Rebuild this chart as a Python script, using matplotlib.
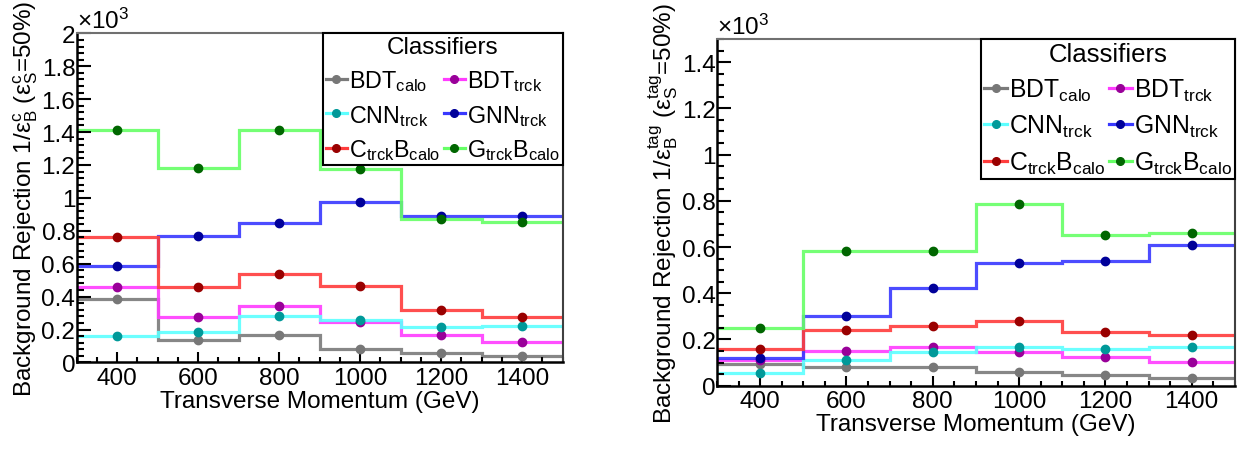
import numpy as np
import matplotlib
matplotlib.use("Agg")
import matplotlib.pyplot as plt
from matplotlib.ticker import MultipleLocator, FuncFormatter

plt.rcParams['font.family'] = ['Liberation Sans', 'DejaVu Sans']
plt.rcParams['mathtext.fontset'] = 'custom'
plt.rcParams['mathtext.rm'] = 'Liberation Sans'
plt.rcParams['mathtext.it'] = 'Liberation Sans:italic'
plt.rcParams['mathtext.sf'] = 'Liberation Sans'
plt.rcParams['mathtext.fallback'] = 'stixsans'

# ---------------- data ----------------
bin_edges = [300, 500, 700, 900, 1100, 1300, 1500]
bin_centers = [400, 600, 800, 1000, 1200, 1400]

classifiers = ['BDT_calo', 'BDT_trck', 'CNN_trck', 'GNN_trck', 'CtrckBcalo', 'GtrckBcalo']
legend_labels = [r'BDT$_{\mathrm{calo}}$', r'BDT$_{\mathrm{trck}}$', r'CNN$_{\mathrm{trck}}$',
                 r'GNN$_{\mathrm{trck}}$', r'C$_{\mathrm{trck}}$B$_{\mathrm{calo}}$',
                 r'G$_{\mathrm{trck}}$B$_{\mathrm{calo}}$']

# left panel: 1/eps_B^c
left_BDT_calo = [388, 136, 168, 79, 59, 40]
left_BDT_trck = [457, 278, 345, 244, 168, 126]
left_CNN_trck = [160, 185, 280, 260, 215, 220]
left_GNN_trck = [587, 766, 848, 973, 888, 890]
left_CtrckBcalo = [762, 457, 538, 467, 319, 274]
left_GtrckBcalo = [1412, 1180, 1410, 1175, 870, 851]

# right panel: 1/eps_B^tag
right_BDT_calo = [95, 82, 82, 58, 45, 33]
right_BDT_trck = [111, 151, 167, 146, 124, 101]
right_CNN_trck = [55, 110, 147, 169, 159, 167]
right_GNN_trck = [120, 303, 421, 532, 539, 608]
right_CtrckBcalo = [157, 242, 258, 278, 233, 218]
right_GtrckBcalo = [249, 581, 582, 788, 650, 661]

line_colors = ['#7a7a7a', '#ff3cff', '#5cffff', '#3838ff', '#ff3c3c', '#66ff66']
marker_colors = ['#777777', '#990099', '#009999', '#000099', '#990000', '#006600']

left_series = [left_BDT_calo, left_BDT_trck, left_CNN_trck, left_GNN_trck, left_CtrckBcalo, left_GtrckBcalo]
right_series = [right_BDT_calo, right_BDT_trck, right_CNN_trck, right_GNN_trck, right_CtrckBcalo, right_GtrckBcalo]

FS = 17.5

fig = plt.figure(figsize=(12.57, 4.52), dpi=100)
axL = fig.add_axes([0.061, 0.196, 0.3866, 0.728])
axR = fig.add_axes([0.5704, 0.1445, 0.4120, 0.767])


def draw(ax, series, ymax, yminor, ylabel, legfs, titlefs, lspace):
    handles = []
    for vals, lc, mc in zip(series, line_colors, marker_colors):
        ax.stairs(vals, bin_edges, baseline=None, color=lc, lw=2.3, alpha=0.9)
        ax.plot(bin_centers, vals, 'o', color=mc, ms=6, zorder=3)
        h, = ax.plot([], [], '-', color=lc, lw=2.3, marker='o', mfc=mc, mec=mc, ms=5.5)
        handles.append(h)
    ax.set_xlim(300, 1500)
    ax.set_ylim(0, ymax)
    ax.xaxis.set_major_locator(MultipleLocator(200))
    ax.xaxis.set_minor_locator(MultipleLocator(50))
    ax.yaxis.set_major_locator(MultipleLocator(200))
    ax.yaxis.set_minor_locator(MultipleLocator(yminor))
    ax.yaxis.set_major_formatter(FuncFormatter(lambda v, p: f'{v/1000:g}'))
    ax.set_xticks([400, 600, 800, 1000, 1200, 1400])
    ax.tick_params(axis='both', which='both', direction='in', top=False, right=False,
                   labelsize=FS, width=1.5, colors='black')
    ax.tick_params(axis='y', which='major', length=10, pad=1)
    ax.tick_params(axis='y', which='minor', length=5)
    ax.tick_params(axis='x', which='major', length=7, pad=3)
    ax.tick_params(axis='x', which='minor', length=3.5)
    for s in ['left', 'bottom']:
        ax.spines[s].set_linewidth(1.8)
        ax.spines[s].set_color('black')
    ax.spines['top'].set_color('#707070')
    ax.spines['top'].set_linewidth(1.5)
    ax.spines['right'].set_color('#404040')
    ax.spines['right'].set_linewidth(1.5)
    ax.set_xlabel('Transverse Momentum (GeV)', fontsize=FS, labelpad=1)
    ax.set_ylabel(ylabel, fontsize=FS, labelpad=1)
    ax.text(0.0, 1.0, r'$\times$10$^{3}$', transform=ax.transAxes, fontsize=FS,
            ha='left', va='bottom')
    order = [0, 2, 4, 1, 3, 5]
    leg = ax.legend([handles[i] for i in order], [legend_labels[i] for i in order],
                    ncol=2, loc='upper right', bbox_to_anchor=(1.0, 1.0),
                    fontsize=legfs, title='Classifiers', title_fontsize=titlefs,
                    frameon=True, fancybox=False, framealpha=1, edgecolor='black',
                    handlelength=0.9, handletextpad=0.1, columnspacing=0.15,
                    labelspacing=lspace, borderpad=0.12, borderaxespad=0)
    leg.get_frame().set_linewidth(1.5)


draw(axL, left_series, 2000, 40,
     r'Background Rejection 1/$\mathrm{\epsilon}_{\mathrm{B}}^{\mathrm{c}}$ ($\mathrm{\epsilon}_{\mathrm{S}}^{\mathrm{c}}$=50%)',
     16.8, 17.5, 0.42)
draw(axR, right_series, 1500, 50,
     r'Background Rejection 1/$\mathrm{\epsilon}_{\mathrm{B}}^{\mathrm{tag}}$ ($\mathrm{\epsilon}_{\mathrm{S}}^{\mathrm{tag}}$=50%)',
     17.8, 18.5, 0.42)

fig.savefig('out.png', dpi=100)
